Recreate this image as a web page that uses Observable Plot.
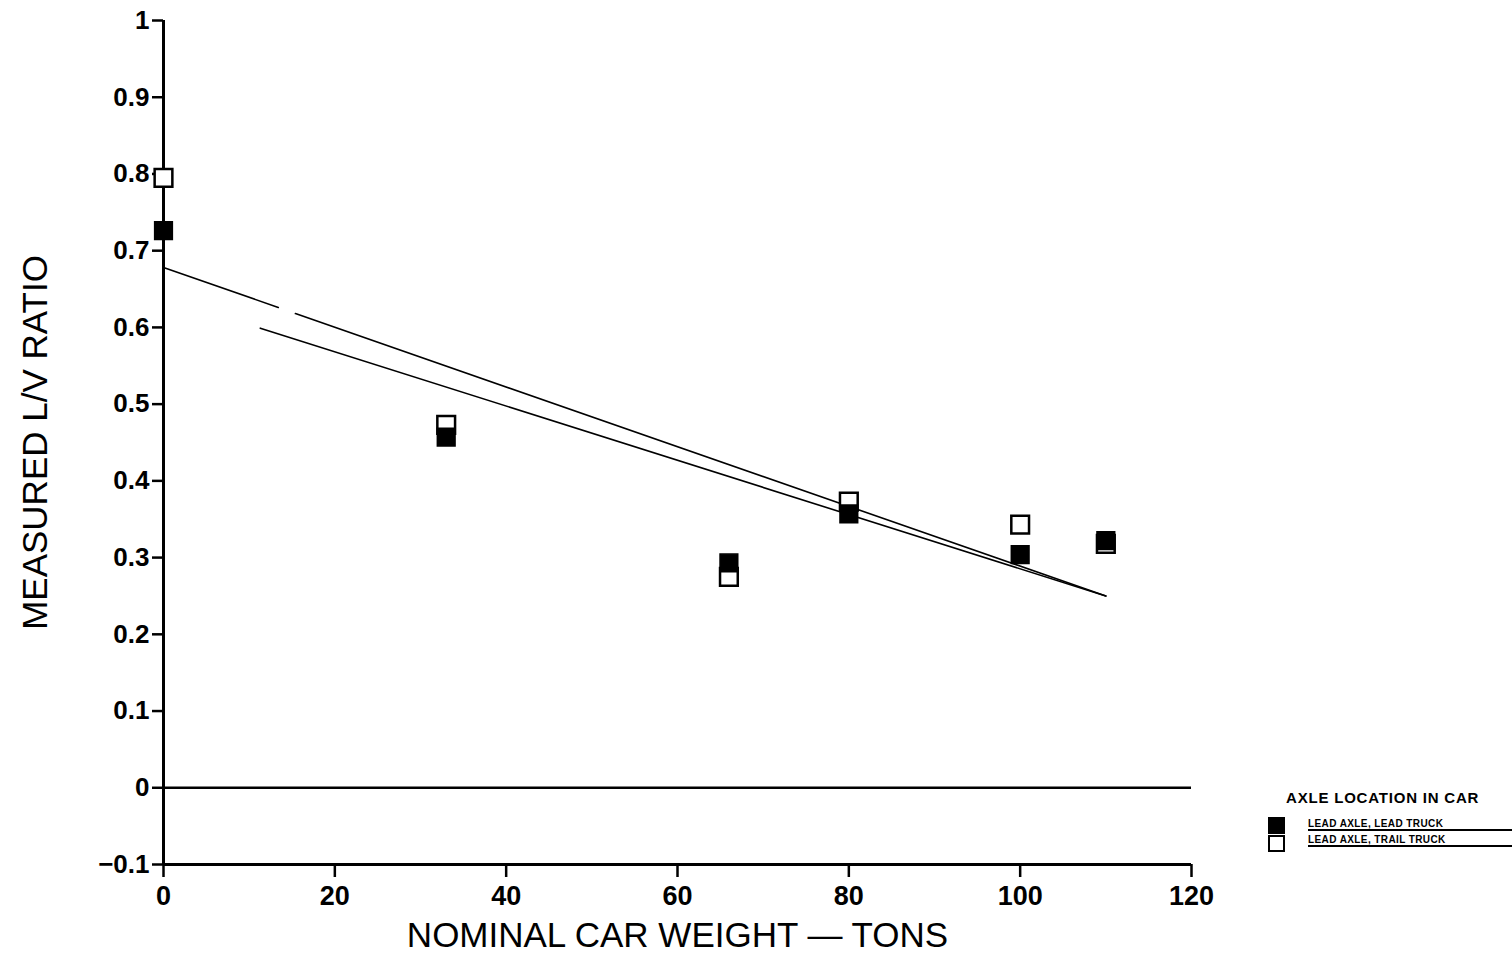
<!DOCTYPE html>
<html>
<head>
<meta charset="utf-8">
<script src="https://cdn.jsdelivr.net/npm/d3@7"></script>
<script src="https://cdn.jsdelivr.net/npm/@observablehq/plot@0.6"></script>
<style>
  html, body { margin: 0; padding: 0; background: #fff; }
  #wrap { position: relative; width: 1512px; height: 960px; }
  #legend { position: absolute; left: 1266px; top: 789px; font-family: "Liberation Sans", Arial, sans-serif; color: #000; }
  #legend .ttl { position: absolute; left: 20px; top: 0px; font-size: 15px; font-weight: 900; white-space: nowrap; letter-spacing: 0.8px; }
  #legend .sq { position: absolute; left: 2px; width: 17px; height: 17px; box-sizing: border-box; border: 2.5px solid #000; }
  #legend .lab { position: absolute; left: 42px; font-size: 10px; font-weight: 900; white-space: nowrap; border-bottom: 2px solid #000; width: 204px; line-height: 10px; letter-spacing: 0.4px; }
</style>
</head>
<body>
<div id="wrap">
  <div id="chart"></div>
  <div id="legend"></div>
</div>
<script>
// Nominal car weights (tons)
const weights = [0, 33, 66, 80, 100, 110];
// Measured L/V ratio, lead axle, lead truck (filled squares)
const leadTruck = [0.726, 0.457, 0.293, 0.357, 0.304, 0.322];
// Measured L/V ratio, lead axle, trail truck (open squares)
const trailTruck = [0.795, 0.473, 0.275, 0.373, 0.343, 0.318];
// Fitted lines (endpoints)
const upperFitSeg = ["a", "a", "b", "b"];
const upperFitX = [0, 13.4, 15.4, 110];
const upperFitY = [0.678, 0.626, 0.618, 0.25];
const lowerFitX = [11.3, 110];
const lowerFitY = [0.599, 0.25];
// Ticks
const xTicks = [0, 20, 40, 60, 80, 100, 120];
const yTicks = [-0.1, 0, 0.1, 0.2, 0.3, 0.4, 0.5, 0.6, 0.7, 0.8, 0.9, 1];
const legendTitle = "AXLE LOCATION IN CAR";
const legendLabels = ["LEAD AXLE, LEAD TRUCK", "LEAD AXLE, TRAIL TRUCK"];

const lead = weights.map((w, i) => ({w, v: leadTruck[i]}));
const trail = weights.map((w, i) => ({w, v: trailTruck[i]}));
const upperFit = upperFitX.map((x, i) => ({x, y: upperFitY[i], s: upperFitSeg[i]}));
const lowerFit = lowerFitX.map((x, i) => ({x, y: lowerFitY[i]}));

const font = "'Liberation Sans', Arial, sans-serif";
const fmt = d => (d < 0 ? "\u2212" : "") + String(+Math.abs(d).toFixed(2));

const chart = Plot.plot({
  width: 1512,
  height: 960,
  marginLeft: 163,
  marginRight: 321,
  marginTop: 20,
  marginBottom: 96,
  style: {fontFamily: font, background: "#fff", color: "#000"},
  x: {domain: [0, 120]},
  y: {domain: [-0.1, 1]},
  marks: [
    Plot.axisX(xTicks, {tickSize: 13, tickPadding: 8, fontSize: 27, fontWeight: "bold", strokeWidth: 2.5, label: null, tickFormat: fmt}),
    Plot.axisY(yTicks, {tickSize: 11, tickPadding: 3, fontSize: 26, fontWeight: "bold", strokeWidth: 2.5, label: null, tickFormat: fmt}),
    Plot.ruleX([0], {y1: -0.1, y2: 1, strokeWidth: 3}),
    Plot.ruleY([-0.1], {x1: 0, x2: 120, strokeWidth: 3}),
    Plot.ruleY([0], {x1: 0, x2: 120, strokeWidth: 2.5}),
    Plot.line(upperFit, {x: "x", y: "y", z: "s", stroke: "#000", strokeWidth: 1.6}),
    Plot.line(lowerFit, {x: "x", y: "y", stroke: "#000", strokeWidth: 1.6}),
    Plot.dot(trail, {x: "w", y: "v", symbol: "square", r: 10, fill: "#fff", stroke: "#000", strokeWidth: 2.5}),
    Plot.dot(lead, {x: "w", y: "v", symbol: "square", r: 10, fill: "#000", stroke: "#000", strokeWidth: 1.5}),
    Plot.text(["MEASURED L/V RATIO"], {frameAnchor: "left", textAnchor: "middle", dx: -128, rotate: -90, fontSize: 35, fontFamily: font}),
    Plot.text(["NOMINAL CAR WEIGHT \u2014 TONS"], {frameAnchor: "bottom", dy: 82, fontSize: 35, fontFamily: font})
  ]
});
document.getElementById("chart").appendChild(chart);

const lg = document.getElementById("legend");
const t = document.createElement("div");
t.className = "ttl"; t.textContent = legendTitle; lg.appendChild(t);
legendLabels.forEach((lab, i) => {
  const sq = document.createElement("div");
  sq.className = "sq";
  sq.style.top = (28 + i * 18) + "px";
  sq.style.background = i === 0 ? "#000" : "#fff";
  lg.appendChild(sq);
  const l = document.createElement("div");
  l.className = "lab";
  l.style.top = (30 + i * 16) + "px";
  l.textContent = lab;
  lg.appendChild(l);
});
</script>
</body>
</html>
